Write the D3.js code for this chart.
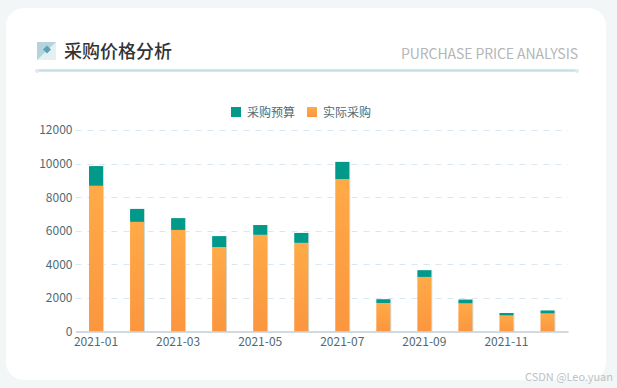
<!DOCTYPE html>
<html>
<head>
<meta charset="utf-8">
<script src="https://cdn.jsdelivr.net/npm/d3@7"></script>
<style>
  html, body { margin: 0; padding: 0; background: #f2f6f7; }
  svg { display: block; }
  text { font-family: "Noto Sans CJK SC", "Noto Sans", sans-serif; }
</style>
</head>
<body>
<div id="chart"></div>
<script>
const months = ["2021-01", "2021-02", "2021-03", "2021-04", "2021-05", "2021-06",
  "2021-07", "2021-08", "2021-09", "2021-10", "2021-11", "2021-12"];
const actual = [8680, 6530, 6050, 5030, 5760, 5280, 9080, 1700, 3250, 1680, 960, 1080];
const budget = [1170, 770, 700, 650, 580, 590, 1020, 220, 400, 220, 140, 170];
const yTicks = [0, 2000, 4000, 6000, 8000, 10000, 12000];
const seriesNames = ["采购预算", "实际采购"];

const width = 617, height = 388;
const margin = { top: 130, right: 49, bottom: 56.5, left: 75.5 };

const svg = d3.select("#chart").append("svg")
  .attr("width", width)
  .attr("height", height);

// gradient for the orange bars
const defs = svg.append("defs");
const grad = defs.append("linearGradient")
  .attr("id", "orange")
  .attr("x1", 0).attr("y1", 0).attr("x2", 0).attr("y2", 1);
grad.append("stop").attr("offset", "0%").attr("stop-color", "#ffaa47");
grad.append("stop").attr("offset", "100%").attr("stop-color", "#fb963f");

// white card
svg.append("rect")
  .attr("x", 6).attr("y", 8)
  .attr("width", 600).attr("height", 372)
  .attr("rx", 18)
  .attr("fill", "#fff");

// header icon
const icon = svg.append("g").attr("transform", "translate(37,42)");
icon.append("rect").attr("width", 19).attr("height", 18).attr("fill", "#e4f1f3");
icon.append("path").attr("d", "M0 0H19L0 18Z").attr("fill", "#b5d3da");
icon.append("path").attr("d", "M10 3.5L14 7.5L10 11.5L6 7.5Z").attr("fill", "#5ba3b3");

svg.append("text")
  .attr("x", 64).attr("y", 58)
  .attr("font-size", 18)
  .attr("font-weight", 500)
  .attr("fill", "#333")
  .text("采购价格分析");

svg.append("text")
  .attr("x", 578).attr("y", 59)
  .attr("text-anchor", "end")
  .attr("font-size", 14)
  .attr("textLength", 177)
  .attr("fill", "#b4b6b7")
  .text("PURCHASE PRICE ANALYSIS");

// header rule
svg.append("line")
  .attr("x1", 37).attr("x2", 577)
  .attr("y1", 70.5).attr("y2", 70.5)
  .attr("stroke", "#c5dfe6")
  .attr("stroke-width", 2.5);
[37, 577].forEach(cx => {
  svg.append("circle")
    .attr("cx", cx).attr("cy", 71)
    .attr("r", 2)
    .attr("fill", "#dcebef");
});

const x = d3.scaleBand()
  .domain(months)
  .range([margin.left, width - margin.right]);

const y = d3.scaleLinear()
  .domain([0, 12000])
  .range([height - margin.bottom, margin.top]);

// gridlines
svg.append("g")
  .selectAll("line")
  .data(yTicks.filter(d => d > 0))
  .enter()
  .append("line")
  .attr("x1", margin.left)
  .attr("x2", width - margin.right)
  .attr("y1", d => Math.round(y(d)) + 0.5)
  .attr("y2", d => Math.round(y(d)) + 0.5)
  .attr("stroke", "#d9e7f3")
  .attr("stroke-dasharray", "6 6");

const barWidth = 14;

const bars = svg.append("g")
  .selectAll("g")
  .data(months)
  .enter()
  .append("g")
  .attr("transform", d => `translate(${x(d) + x.bandwidth() / 2 - barWidth / 2},0)`);

// faint shadow on the right side of each bar
bars.append("rect")
  .attr("x", 1)
  .attr("y", (d, i) => y(actual[i] + budget[i]))
  .attr("width", barWidth)
  .attr("height", (d, i) => y(0) - y(actual[i] + budget[i]))
  .attr("fill", "#cfe0dc");

bars.append("rect")
  .attr("y", (d, i) => y(actual[i]))
  .attr("width", barWidth)
  .attr("height", (d, i) => y(0) - y(actual[i]))
  .attr("fill", "url(#orange)");

bars.append("rect")
  .attr("y", (d, i) => y(actual[i] + budget[i]))
  .attr("width", barWidth)
  .attr("height", (d, i) => y(actual[i]) - y(actual[i] + budget[i]))
  .attr("fill", "#00998a");

// y axis labels
const yAxis = svg.append("g")
  .attr("transform", `translate(${margin.left},0)`)
  .call(d3.axisLeft(y).tickValues(yTicks).tickSize(0).tickPadding(3).tickFormat(d => d));
yAxis.select(".domain").remove();
yAxis.selectAll("text")
  .attr("font-family", "'Noto Sans', sans-serif")
  .attr("font-size", 12)
  .attr("fill", "#4f6a73");

// x axis, every other label
const xAxis = svg.append("g")
  .attr("transform", `translate(0,${height - margin.bottom})`)
  .call(d3.axisBottom(x)
    .tickValues(months.filter((d, i) => i % 2 === 0))
    .tickSize(0)
    .tickPadding(6));
xAxis.select(".domain")
  .attr("stroke", "#c3ccd6")
  .attr("stroke-width", 1.5);
xAxis.selectAll("text")
  .attr("font-family", "'Noto Sans', sans-serif")
  .attr("font-size", 12)
  .attr("fill", "#4f6a73");

// legend
const legendX = [231, 307];
const legendColors = ["#00998a", "url(#orange)"];
const legend = svg.append("g")
  .selectAll("g")
  .data(seriesNames)
  .enter()
  .append("g")
  .attr("transform", (d, i) => `translate(${legendX[i]},107)`);
legend.append("rect")
  .attr("width", 10).attr("height", 10)
  .attr("fill", (d, i) => legendColors[i]);
legend.append("text")
  .attr("x", 16).attr("y", 9.5)
  .attr("font-size", 12)
  .attr("fill", "#4f6a73")
  .text(d => d);

// watermark
svg.append("text")
  .attr("x", 613).attr("y", 381)
  .attr("text-anchor", "end")
  .attr("font-size", 11)
  .attr("textLength", 88)
  .attr("fill", "#bcc1c3")
  .text("CSDN @Leo.yuan");
</script>
</body>
</html>
